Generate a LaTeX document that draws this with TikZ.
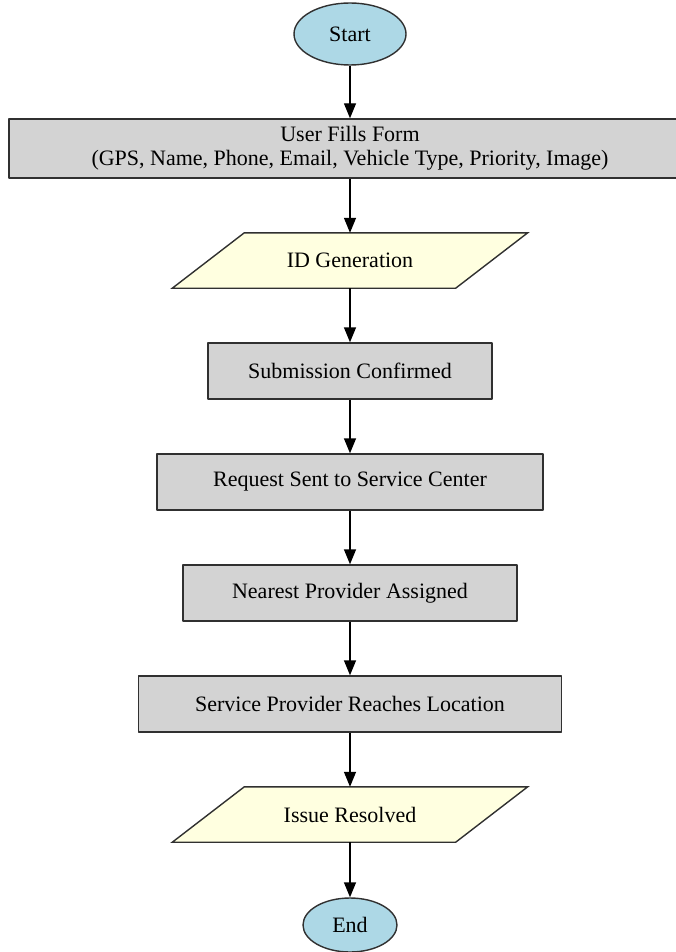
\documentclass[tikz,border=0pt]{standalone}
\usepackage{fontspec}
\setmainfont{Liberation Serif}
\usetikzlibrary{arrows.meta,shapes.geometric,backgrounds}
\definecolor{termblue}{HTML}{ADD8E6}
\definecolor{boxgray}{HTML}{D3D3D3}
\definecolor{ioyellow}{HTML}{FFFFE0}
\definecolor{edgegray}{HTML}{303030}
\tikzset{
  every picture/.style={
    line join=round,
    >={Triangle[length=15pt,width=12pt]},   % graphviz-like filled head
  },
  terminal/.style={ellipse, draw=edgegray, fill=termblue, line width=1.4pt, inner sep=0pt},
  stepbox/.style={rectangle, draw=edgegray, fill=boxgray, line width=1.4pt,
    minimum height=56pt, inner sep=0pt, align=center},
  % text part of an input/output box; the slanted outline is drawn behind it
  iobox/.style={rectangle, minimum height=55pt, minimum width=283pt, inner sep=0pt},
  ioshape/.style={draw=edgegray, fill=ioyellow, line width=1.4pt},
  flow/.style={->, line width=1.4pt, black},
}

\begin{document}
\begin{tikzpicture}[x=1pt, y=-1pt, font=\fontsize{22}{24}\selectfont]
\useasboundingbox (0,0) rectangle (675,952);
% nodes, top to bottom
\node[terminal, minimum width=112pt, minimum height=62pt] (start) at (350,34) {Start};
\node[stepbox, minimum width=682pt, minimum height=59pt] (form) at (350,148.5)
  {User Fills Form\\(GPS, Name, Phone, Email, Vehicle Type, Priority, Image)};
\node[iobox] (idgen) at (350,260.5) {ID Generation};
\node[stepbox, minimum width=284pt] (confirm) at (350,371) {Submission Confirmed};
\node[stepbox, minimum width=386pt] (request) at (350,482) {Request Sent to Service Center};
\node[stepbox, minimum width=334pt] (assign) at (350,593) {Nearest Provider Assigned};
\node[stepbox, minimum width=423pt] (reach) at (350,704) {Service Provider Reaches Location};
\node[iobox] (resolved) at (350,814.5) {Issue Resolved};
\node[terminal, minimum width=94pt, minimum height=54pt] (end) at (350,925) {End};
% slanted outlines
\begin{scope}[on background layer]
\foreach \n in {idgen,resolved}
  \draw[ioshape] ([xshift=36pt]\n.north west) -- ([xshift=36pt]\n.north east)
    -- ([xshift=-36pt]\n.south east) -- ([xshift=-36pt]\n.south west) -- cycle;
\end{scope}
% connectors
\draw[flow] (start) -- (form);
\draw[flow] (form) -- (idgen);
\draw[flow] (idgen) -- (confirm);
\draw[flow] (confirm) -- (request);
\draw[flow] (request) -- (assign);
\draw[flow] (assign) -- (reach);
\draw[flow] (reach) -- (resolved);
\draw[flow] (resolved) -- (end);
\end{tikzpicture}
\end{document}
